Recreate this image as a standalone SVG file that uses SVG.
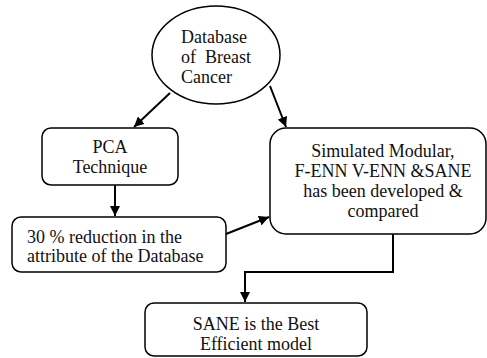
<svg xmlns="http://www.w3.org/2000/svg" width="487" height="358" viewBox="0 0 487 358">
<style>
.s{fill:#fff;stroke:#000;stroke-width:1.5}
.t{font-family:'Liberation Serif','Times New Roman','DejaVu Serif',serif;font-size:18px;fill:#111}
.c{text-anchor:middle}
.l{fill:none;stroke:#000;stroke-width:2}
</style>
<defs>
<marker id="a" viewBox="0 0 10 10" refX="10" refY="5" markerWidth="5" markerHeight="5" orient="auto" markerUnits="strokeWidth">
<path d="M0,0 L10,5 L0,10 z" fill="#000"/>
</marker>
</defs>
<rect width="487" height="358" fill="#fff"/>
<g id="connectors">
<line class="l" x1="170" y1="93" x2="134" y2="127" marker-end="url(#a)"/>
<line class="l" x1="270" y1="86" x2="286" y2="127" marker-end="url(#a)"/>
<line class="l" x1="115" y1="185" x2="115" y2="216" marker-end="url(#a)"/>
<line class="l" x1="226" y1="234" x2="269" y2="217" marker-end="url(#a)"/>
<polyline class="l" points="393,234 393,272 245,272 245,302" marker-end="url(#a)"/>
</g>
<g font-family="Liberation Serif, serif">
<g id="db">
<ellipse class="s" cx="216" cy="55" rx="64" ry="49"/>
<text class="t" x="181" y="43">Database</text>
<text class="t" x="181" y="63" xml:space="preserve">of  Breast</text>
<text class="t" x="181" y="83">Cancer</text>
</g>
<g id="pca">
<rect class="s" x="42" y="128" width="136" height="57" rx="9"/>
<text class="t c" x="110" y="153">PCA</text>
<text class="t c" x="110" y="173">Technique</text>
</g>
<g id="reduction">
<rect class="s" x="12" y="217" width="214" height="55" rx="9"/>
<text class="t" x="27" y="243">30 % reduction in the</text>
<text class="t" x="27" y="262">attribute of the Database</text>
</g>
<g id="simulated">
<rect class="s" x="270" y="128" width="216" height="106" rx="16"/>
<text class="t c" x="383" y="157">Simulated Modular,</text>
<text class="t c" x="383" y="177">F-ENN V-ENN &amp;SANE</text>
<text class="t c" x="383" y="197">has been developed &amp;</text>
<text class="t c" x="383" y="217">compared</text>
</g>
<g id="sane">
<rect class="s" x="145" y="303" width="222" height="53" rx="9"/>
<text class="t c" x="256" y="330">SANE is the Best</text>
<text class="t c" x="256" y="350">Efficient model</text>
</g>
</g>
</svg>
